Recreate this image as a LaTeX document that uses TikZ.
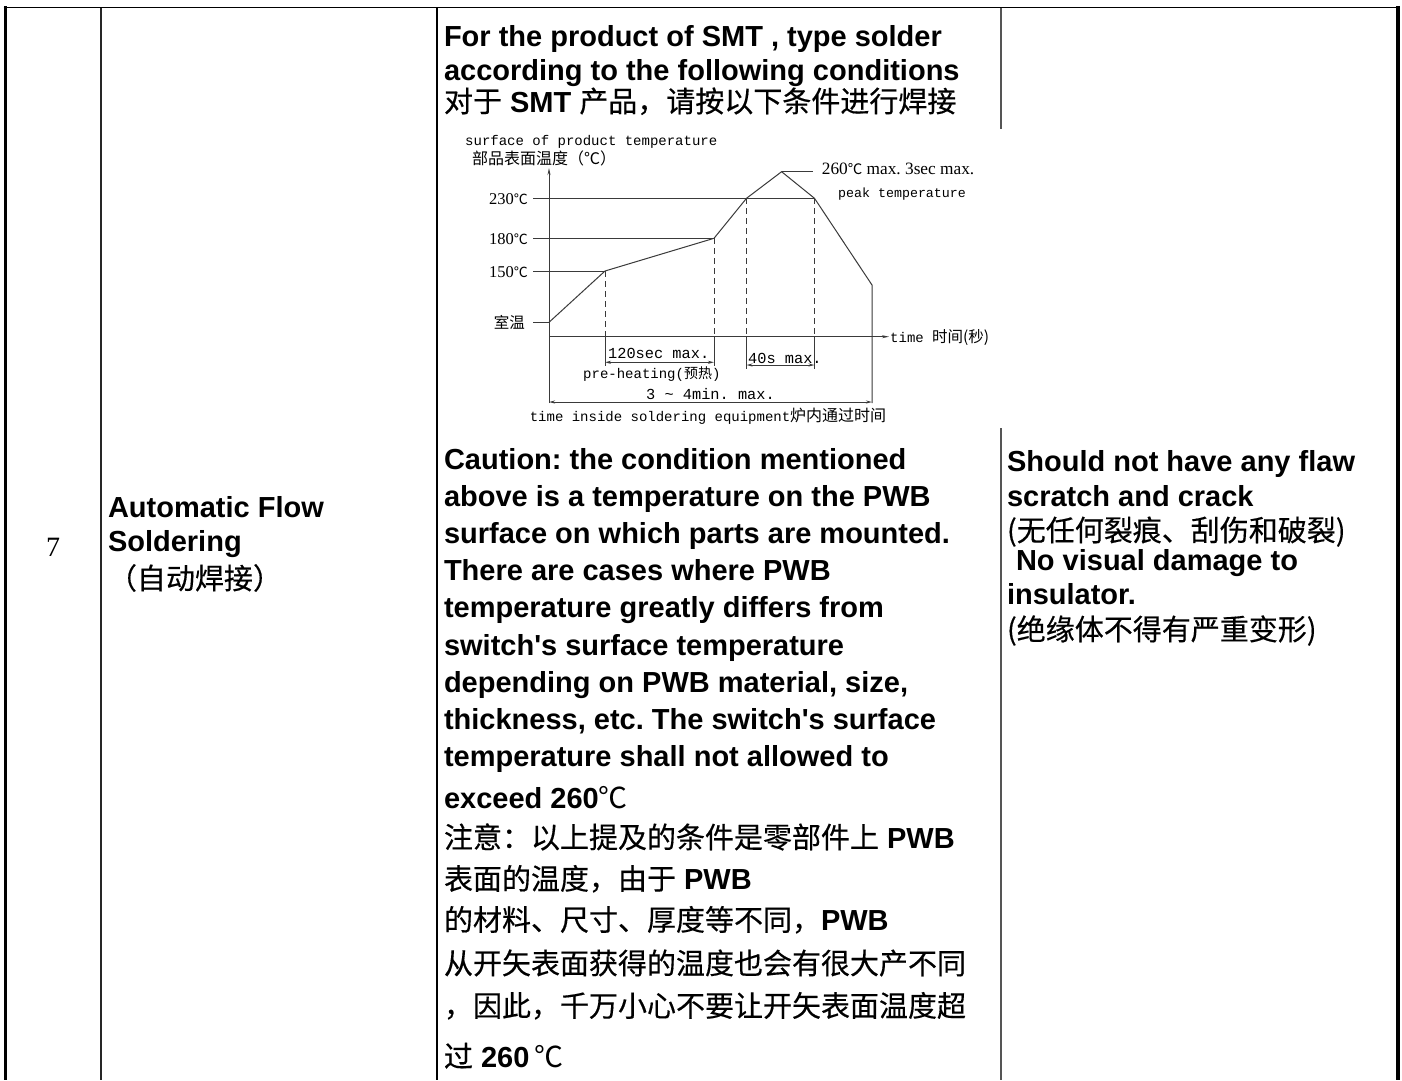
\documentclass[tikz,border=0pt]{standalone}
\usepackage{fontspec}
\setmainfont{Liberation Sans}
\newfontfamily\cjk{Noto Sans CJK SC}[FakeBold=0.4]
\newfontfamily\cjkc{Noto Sans CJK SC}
\newfontfamily\serifx{Liberation Serif}
\newfontfamily\monox{Liberation Mono}
\usetikzlibrary{arrows.meta}
\definecolor{chartgray}{HTML}{3A3A3A}
\definecolor{rulegray}{HTML}{555555}
\frenchspacing
\begin{document}
\begin{tikzpicture}[x=1pt,y=-1pt,
  txt/.style={anchor=base west,inner sep=0pt,outer sep=0pt,font=\fontsize{29}{34}\selectfont\frenchspacing},
  btxt/.style={txt,font=\fontsize{29}{34}\selectfont\bfseries\frenchspacing},
  ctxt/.style={txt,font=\fontsize{29}{34}\selectfont\cjk},
  ch/.style={draw=chartgray,line width=1pt},
  dsh/.style={ch,dash pattern=on 6pt off 4pt},
  dim/.style={ch,{Stealth[length=6pt,width=3pt]}-{Stealth[length=6pt,width=3pt]}},
  lbl/.style={anchor=base east,inner sep=0pt,font=\fontsize{16.5}{18}\selectfont\serifx},
  mlbl/.style={anchor=base west,inner sep=0pt,font=\fontsize{14}{16}\selectfont\monox},
  dlbl/.style={anchor=base west,inner sep=0pt,font=\fontsize{15.3}{17}\selectfont\monox},
  rule/.style={draw=black,line width=1.5pt}
]
\useasboundingbox (0,0) rectangle (1402,1080);
\fill[white] (0,0) rectangle (1402,1080);

% ---- table rules
\draw[rule] (3.5,7.5) -- (1400,7.5);
\draw[rule,line width=3pt] (5,6) -- (5,1080);
\draw[rule,line width=4pt] (1398,6) -- (1398,1080);
\draw[rule,line width=1.2pt,draw=black!85] (101,7.5) -- (101,1080);
\draw[rule] (437,7.5) -- (437,1080);
\draw[rule,draw=rulegray] (1001,7.5) -- (1001,129);
\draw[rule,draw=rulegray] (1001,428) -- (1001,1080);

% ---- column 1 and 2
\node[anchor=base,inner sep=0pt,font=\fontsize{28}{30}\selectfont\serifx] (num) at (53,556) {7};
\node[btxt] (a1) at (108,517.3) {Automatic Flow};
\node[btxt] (a2) at (108,551.5) {Soldering};
\node[ctxt] (a3) at (108,589) {（自动焊接）};

% ---- column 3, top
\node[btxt] (t1) at (444,46.7) {For the product of SMT , type solder};
\node[btxt] (t2) at (444,80) {according to the following conditions};
\node[txt] (t3) at (444,112) {{\cjk 对于} \textbf{SMT} {\cjk 产品，请按以下条件进行焊接}};

% ---- chart
\coordinate (O) at (549,336.7);
\coordinate (Ytop) at (549,168);
\coordinate (Ybot) at (549,403);
\coordinate (Xend) at (889,336.7);
\coordinate (P0) at (549,322.3);
\coordinate (P1) at (605,271);
\coordinate (P2) at (714,238.3);
\coordinate (P3) at (746.5,198.3);
\coordinate (P4) at (781.6,171.7);
\coordinate (P5) at (814.5,198.3);
\coordinate (P6) at (872,285);
\coordinate (P6b) at (872,403);
\coordinate (Lead) at (812.8,171.7);

\draw[ch,-{Stealth[length=7pt,width=3pt]}] (Ybot) -- (Ytop);
\draw[ch,-{Stealth[length=7pt,width=3pt]}] (O) -- (Xend);
\draw[ch] (P0) -- (P1) -- (P2) -- (P3) -- (P4) -- (P5) -- (P6) -- (P6b);
\draw[ch] (P4) -- (Lead);
% reference levels
\draw[ch] (533,198.3) -- (P5);
\draw[ch] (533,238.3) -- (P2);
\draw[ch] (533,271) -- (P1);
\draw[ch] (533,322.3) -- (P0);
% dashed drops
\draw[dsh] (P1) -- (605,336.7);
\draw[dsh] (P2) -- (714,336.7);
\draw[dsh] (P3) -- (746.5,336.7);
\draw[dsh] (P5) -- (814.5,336.7);
\draw[ch] (605,336.7) -- (605,366);
\draw[ch] (714,336.7) -- (714,366);
\draw[ch] (746.5,336.7) -- (746.5,369);
\draw[ch] (814.5,336.7) -- (814.5,369);
% dimensions
\draw[dim] (605,362.3) -- (714,362.3);
\draw[dim] (746.5,365) -- (814.5,365);
\draw[dim] (549,402) -- (872,402);

% chart labels
\node[mlbl] (c1) at (465,145.5) {surface of product temperature};
\node[anchor=base west,inner sep=0pt,font=\fontsize{16}{17}\selectfont\cjkc] (c2) at (472,164) {部品表面温度（℃）};
\node[anchor=base west,inner sep=0pt,font=\fontsize{17.3}{19}\selectfont\serifx] (c3) at (821.7,174) {260{\cjkc\fontsize{14.5}{16}\selectfont ℃} max. 3sec max.};
\node[anchor=base west,inner sep=0pt,font=\fontsize{13.3}{15}\selectfont\monox] (c4) at (838,197) {peak temperature};
\node[lbl] (l230) at (528,204) {230{\cjkc\fontsize{14}{16}\selectfont ℃}};
\node[lbl] (l180) at (528,244) {180{\cjkc\fontsize{14}{16}\selectfont ℃}};
\node[lbl] (l150) at (528,277) {150{\cjkc\fontsize{14}{16}\selectfont ℃}};
\node[anchor=base east,inner sep=0pt,font=\fontsize{15.5}{16}\selectfont\cjkc] (lrt) at (525,328.5) {室温};
\node[mlbl] (c5) at (890,342.5) {time {\cjkc\fontsize{15.5}{16}\selectfont 时间(秒)}};
\node[dlbl] (c6) at (608,358) {120sec max.};
\node[mlbl] (c7) at (583,378.5) {pre-heating({\cjkc\fontsize{14}{16}\selectfont 预热})};
\node[dlbl] (c8) at (748,363) {40s max.};
\node[dlbl] (c9) at (646,399.5) {3 \textasciitilde{} 4min. max.};
\node[mlbl] (c10) at (529.6,421.5) {time inside soldering equipment{\cjkc\fontsize{16}{17}\selectfont 炉内通过时间}};

% ---- column 3, caution
\node[btxt] (k1) at (444,469.5) {Caution: the condition mentioned};
\node[btxt] (k2) at (444,506.6) {above is a temperature on the PWB};
\node[btxt] (k3) at (444,543.7) {surface on which parts are mounted.};
\node[btxt] (k4) at (444,580.8) {There are cases where PWB};
\node[btxt] (k5) at (444,617.9) {temperature greatly differs from};
\node[btxt] (k6) at (444,655) {switch\textquotesingle s surface temperature};
\node[btxt] (k7) at (444,692.1) {depending on PWB material, size,};
\node[btxt] (k8) at (444,729.2) {thickness, etc. The switch\textquotesingle s surface};
\node[btxt] (k9) at (444,766.5) {temperature shall not allowed to};
\node[txt] (k10) at (444,808.5) {\textbf{exceed 260}{\cjkc ℃}};
\node[txt] (k11) at (444,848) {{\cjk 注意：以上提及的条件是零部件上} \textbf{PWB}};
\node[txt] (k12) at (444,889.5) {{\cjk 表面的温度，由于} \textbf{PWB}};
\node[txt] (k13) at (444,930.5) {{\cjk 的材料、尺寸、厚度等不同，}\textbf{PWB}};
\node[ctxt] (k14) at (444,974) {从开矢表面获得的温度也会有很大产不同};
\node[ctxt] (k15) at (444,1016.5) {，因此，千万小心不要让开矢表面温度超};
\node[txt] (k16) at (444,1067) {{\cjk 过} \textbf{260}\,{\cjkc ℃}};

% ---- column 4
\node[btxt] (r1) at (1007,471.7) {Should not have any flaw};
\node[btxt] (r2) at (1007,506) {scratch and crack};
\node[ctxt] (r3) at (1007,541) {(无任何裂痕、刮伤和破裂)};
\node[btxt] (r4) at (1016,570) {No visual damage to};
\node[btxt] (r5) at (1007,604) {insulator.};
\node[ctxt] (r6) at (1007,640) {(绝缘体不得有严重变形)};
\end{tikzpicture}
\end{document}
